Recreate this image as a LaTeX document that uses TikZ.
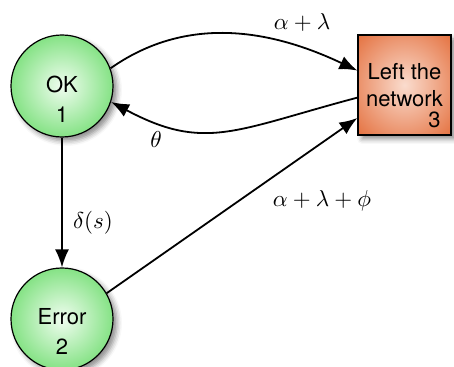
\RequirePackage{fix-cm}
\documentclass[tikz,border=0pt]{standalone}
\usepackage{fontspec}
\newfontfamily\statefont{TeX Gyre Heros}
\usetikzlibrary{arrows.meta,shadows.blur}

\definecolor{stategreen}{RGB}{116,222,116}
\definecolor{stategreenlight}{RGB}{240,253,240}
\definecolor{exitorange}{RGB}{228,112,62}
\definecolor{exitorangelight}{RGB}{250,220,206}

\pgfdeclareradialshading[stategreen,stategreenlight]{stateshade}{\pgfpoint{0bp}{0bp}}{%
	color(0bp)=(stategreenlight); color(29bp)=(stategreen); color(50bp)=(stategreen)}
\pgfdeclareradialshading[exitorange,exitorangelight]{exitshade}{\pgfpoint{0bp}{0bp}}{%
	color(0bp)=(exitorangelight); color(36bp)=(exitorange); color(72bp)=(exitorange)}

\tikzset{
	state/.style={circle, draw, line width=0.6pt, minimum size=51pt, inner sep=0pt,
		shading=stateshade,
		blur shadow={shadow xshift=2pt, shadow yshift=-2pt, shadow blur radius=2.5pt, shadow opacity=45}},
	statename/.style={align=center, font=\statefont\fontsize{11}{15}\selectfont},
	exitbox/.style={rectangle, draw, line width=0.6pt, minimum width=46.5pt, minimum height=50pt,
		shading=exitshade, align=center,
		font=\statefont\fontsize{11}{13.5}\selectfont,
		blur shadow={shadow xshift=2pt, shadow yshift=-2pt, shadow blur radius=2.5pt, shadow opacity=45}},
	trans/.style={line width=0.9pt, -{Latex[length=9pt,width=7pt]}},
	rate/.style={font=\fontsize{11.5}{14}\selectfont}
}

\begin{document}
\begin{tikzpicture}[x=0.5pt, y=-0.5pt]
	\useasboundingbox ( 0, 0 ) rectangle ( 454, 367 );

	% states
	\node [state, label={[statename, yshift=-6.5pt]center:OK\\1}] (ok) at ( 62, 86 ) {};
	\node [state, label={[statename, yshift=-6pt]center:Error\\2}] (err) at ( 62, 319 ) {};
	\node [exitbox, label={[statename, anchor=base east, xshift=-2pt, yshift=4pt]south east:3}] (left) at ( 404.5, 85 ) {Left the\\network};

	% transitions
	\draw [trans] (ok.20) .. controls ( 165, 30 ) and ( 240, 15 ) .. (left.163);
	\draw [trans] (left.195) .. controls ( 235, 130 ) and ( 205, 152 ) .. (ok.-18);
	\draw [trans] (ok) -- (err);
	\draw [trans] (err.30) -- (left.215);

	% rates
	\node [rate] (ratetop) at ( 302, 22 ) {$\alpha + \lambda$};
	\node [rate] (rateback) at ( 156, 140 ) {$\theta$};
	\node [rate] (ratefail) at ( 93, 223 ) {$\delta(s)$};
	\node [rate] (rateleave) at ( 322, 201 ) {$\alpha + \lambda + \phi$};
\end{tikzpicture}
\end{document}
